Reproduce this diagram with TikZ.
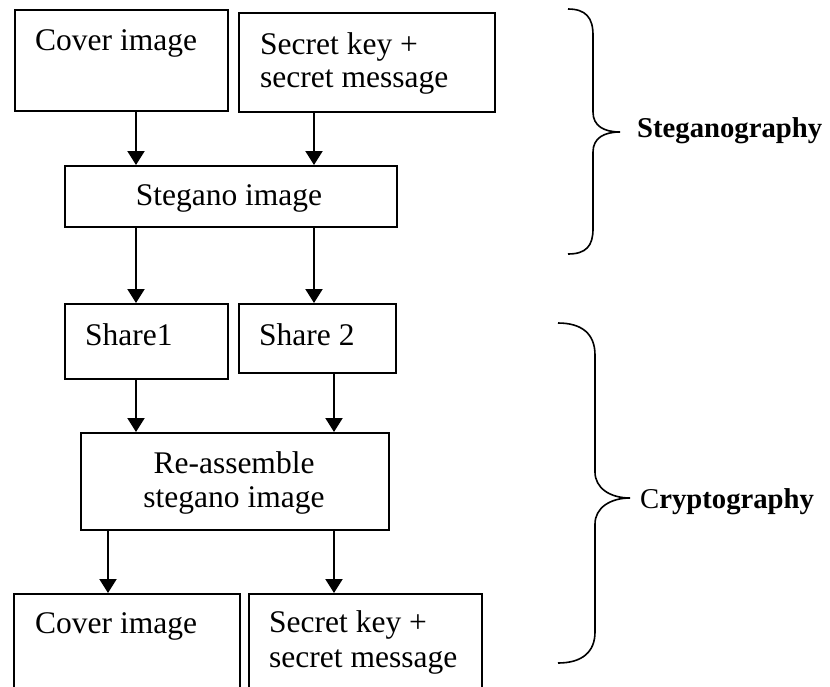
\documentclass[tikz,border=0pt]{standalone}
\usepackage{fontspec}
\setmainfont{Liberation Serif}
\usetikzlibrary{arrows.meta}
\begin{document}
\begin{tikzpicture}[x=1pt,y=-1pt,
  box/.style={draw,line width=1.6pt,inner sep=0pt,anchor=north west},
  txt/.style={anchor=base west,inner sep=0pt,font=\fontsize{31.5}{34}\selectfont},
  ctxt/.style={anchor=base,inner sep=0pt,font=\fontsize{31.5}{34}\selectfont},
  lbl/.style={anchor=base west,inner sep=0pt,font=\fontsize{28.7}{32}\selectfont},
  arr/.style={line width=2pt,-{Triangle[length=14pt,width=17pt]}},
  brace/.style={line width=1.6pt}]
\clip (0,0) rectangle (830,686);
\fill[white] (0,0) rectangle (830,686);
% boxes
\node[box,minimum width=213pt,minimum height=101pt] (cov1) at (14,9) {};
\node[box,minimum width=256pt,minimum height=99pt] (sec1) at (238,12) {};
\node[box,minimum width=332pt,minimum height=61pt] (steg) at (64,165) {};
\node[box,minimum width=163pt,minimum height=75pt] (sh1) at (64,303) {};
\node[box,minimum width=157pt,minimum height=69pt] (sh2) at (238,303) {};
\node[box,minimum width=308pt,minimum height=97pt] (reas) at (80,432) {};
\node[box,minimum width=226pt,minimum height=110pt] (cov2) at (13,593) {};
\node[box,minimum width=233pt,minimum height=110pt] (sec2) at (248,593) {};
% texts
\node[txt] (t1) at (35,50) {Cover image};
\node[txt] (t2) at (260,54) {Secret key +};
\node[txt] (t3) at (260,87) {secret message};
\node[ctxt] (t4) at (229,205) {Stegano image};
\node[txt] (t5) at (85,345) {Share1};
\node[txt] (t6) at (259,345) {Share 2};
\node[ctxt] (t7) at (234,473) {Re-assemble};
\node[ctxt] (t8) at (234,507) {stegano image};
\node[txt] (t9) at (35,633) {Cover image};
\node[txt] (t10) at (269,632) {Secret key +};
\node[txt] (t11) at (269,667) {secret message};
% arrow columns
\coordinate (xa) at (136,0);
\coordinate (xb) at (314,0);
\coordinate (xc) at (334,0);
\coordinate (xd) at (108,0);
\draw[arr] (cov1.south -| xa) -- (steg.north -| xa);
\draw[arr] (sec1.south -| xb) -- (steg.north -| xb);
\draw[arr] (steg.south -| xa) -- (sh1.north -| xa);
\draw[arr] (steg.south -| xb) -- (sh2.north -| xb);
\draw[arr] (sh1.south -| xa) -- (reas.north -| xa);
\draw[arr] (sh2.south -| xc) -- (reas.north -| xc);
\draw[arr] (reas.south -| xd) -- (cov2.north -| xd);
\draw[arr] (reas.south -| xc) -- (sec2.north -| xc);
% braces
\draw[brace] (568,9) .. controls (586,9) and (593,18) .. (593,35) -- (593,112)
  .. controls (593,126) and (604,132) .. (620,132)
  .. controls (604,132) and (593,138) .. (593,152) -- (593,229)
  .. controls (593,246) and (586,254) .. (568,254);
\draw[brace] (558,323) .. controls (582,323) and (595,334) .. (595,355) -- (595,472)
  .. controls (595,488) and (610,498) .. (630,498)
  .. controls (610,498) and (595,508) .. (595,524) -- (595,632)
  .. controls (595,652) and (582,663) .. (558,663);
\node[lbl] (steglbl) at (637,137) {\textbf{Steganography}};
\node[lbl] (cryplbl) at (640,508) {C\textbf{ryptography}};
\end{tikzpicture}
\end{document}
